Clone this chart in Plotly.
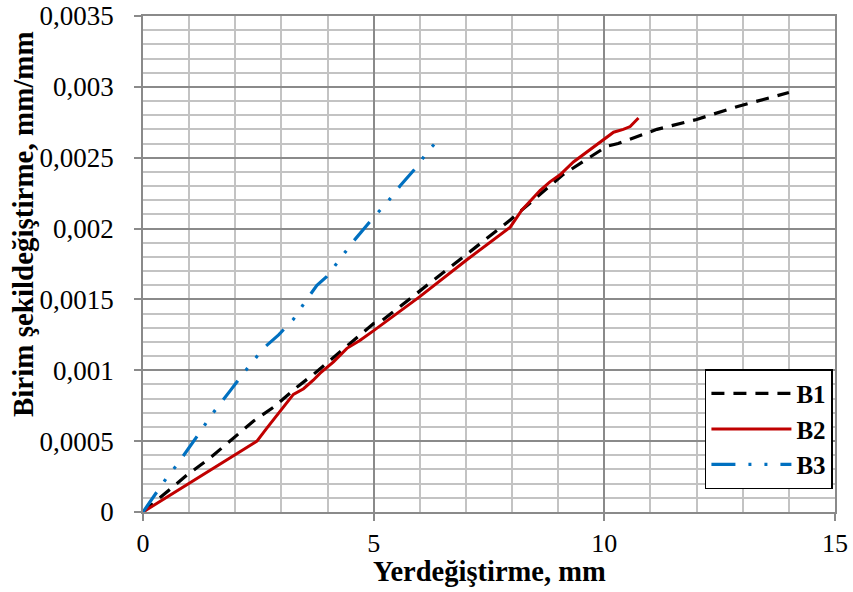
import plotly.graph_objects as go

# ---- data ----
b1_x = [0, 0.43, 0.95, 1.45, 1.89, 2.39, 2.83, 3.37, 3.69, 4.63, 5.0, 5.14, 6.0, 6.84,
        7.96, 9.1, 9.76, 10.05, 10.3, 11.14, 12.0, 12.87, 14.0]
b1_y = [0, 0.00012, 0.00026, 0.00038, 0.0005, 0.00064, 0.00074, 0.00089, 0.00097, 0.00123,
        0.00133, 0.00134, 0.00156, 0.00177, 0.00206, 0.00238, 0.00252, 0.00258, 0.0026,
        0.0027, 0.00277, 0.00286, 0.00296]

b2_x = [0, 2.47, 2.68, 2.9, 3.26, 3.48, 3.69, 3.84, 4.13, 4.42, 4.70, 5.0, 6.0, 7.02,
        7.96, 8.21, 8.61, 8.82, 9.04, 9.33, 9.69, 9.98, 10.2, 10.41, 10.56, 10.74]
b2_y = [0, 0.0005, 0.00059, 0.00068, 0.00083, 0.00087, 0.00093, 0.00098, 0.00106, 0.001155,
        0.00121, 0.00128, 0.00152, 0.00178, 0.00201, 0.00213, 0.00227, 0.00233, 0.00238,
        0.00247, 0.002555, 0.00263, 0.00268, 0.0027, 0.00272, 0.00278]

b3_x = [0, 0.33, 0.51, 0.73, 0.95, 1.27, 1.45, 1.67, 1.9, 2.18, 2.61, 2.94, 3.26, 3.55,
        3.77, 3.98, 4.24, 4.56, 5.0, 5.28, 5.57, 5.79, 6.0, 6.15, 6.33, 6.38]
b3_y = [0, 0.00015, 0.00024, 0.00033, 0.00043, 0.00058, 0.00067, 0.00076, 0.00086, 0.00098,
        0.001155, 0.00125, 0.00136, 0.0015, 0.0016, 0.00166, 0.00177, 0.00191, 0.00208,
        0.00218, 0.0023, 0.00238, 0.00246, 0.00254, 0.0026, 0.0026]

series_names = ["B1", "B2", "B3"]

x_tickvals = [0, 5, 10, 15]
x_ticktext = ["0", "5", "10", "15"]
y_tickvals = [0, 0.0005, 0.001, 0.0015, 0.002, 0.0025, 0.003, 0.0035]
y_ticktext = ["0", "0,0005", "0,001", "0,0015", "0,002", "0,0025", "0,003", "0,0035"]

x_title = "Yerdeğiştirme, mm"
y_title = "Birim şekildeğiştirme, mm/mm"

FONT = "Liberation Serif, Times New Roman, serif"
MAJOR = "#8a8a8a"
MINOR = "#c3c3c3"

fig = go.Figure()
fig.add_trace(go.Scatter(x=b1_x, y=b1_y, name=series_names[0], mode="lines",
                         line=dict(color="black", width=3.2, dash="13px,9px")))
fig.add_trace(go.Scatter(x=b2_x, y=b2_y, name=series_names[1], mode="lines",
                         line=dict(color="#C00000", width=3)))
fig.add_trace(go.Scatter(x=b3_x, y=b3_y, name=series_names[2], mode="lines",
                         line=dict(color="#0070C0", width=3.2,
                                   dash="24px,13px,3px,13px,3px,13px")))

fig.update_layout(
    width=853, height=592,
    margin=dict(l=143, r=18, t=16, b=80),
    paper_bgcolor="white", plot_bgcolor="white",
    font=dict(family=FONT, size=27, color="black"),
    showlegend=True,
    legend=dict(x=0.997, y=0.046, xanchor="right", yanchor="bottom",
                bgcolor="white", bordercolor="black", borderwidth=1.5,
                font=dict(family=FONT, size=25, color="black", weight="bold"),
                itemwidth=80, tracegroupgap=0),
    xaxis=dict(range=[0, 15], tickvals=x_tickvals, ticktext=x_ticktext,
               automargin=False, ticklabeloverflow="allow",
               tickfont=dict(family=FONT, size=26, color="black"),
               showgrid=True, gridcolor=MAJOR, gridwidth=1.5,
               minor=dict(dtick=1, showgrid=True, gridcolor=MINOR, gridwidth=1.5,
                          ticks=""),
               showline=True, linecolor=MAJOR, linewidth=1.5, mirror=True,
               ticks="outside", ticklen=7, tickcolor=MAJOR, tickwidth=1.5,
               zeroline=False, ticklabelstandoff=0),
    yaxis=dict(range=[0, 0.0035], tickvals=y_tickvals, ticktext=y_ticktext,
               automargin=False, ticklabeloverflow="allow",
               showgrid=True, gridcolor=MAJOR, gridwidth=1.5,
               minor=dict(dtick=0.0001, showgrid=True, gridcolor=MINOR, gridwidth=1.5,
                          ticks=""),
               showline=True, linecolor=MAJOR, linewidth=1.5, mirror=True,
               ticks="outside", ticklen=7, tickcolor=MAJOR, tickwidth=1.5,
               zeroline=False, ticklabelstandoff=15),
    annotations=[
        dict(text="<b>" + y_title + "</b>", textangle=-90,
             xref="paper", yref="paper", x=-0.173, y=0.581,
             xanchor="center", yanchor="middle", showarrow=False,
             font=dict(family=FONT, size=29, color="black")),
        dict(text="<b>" + x_title + "</b>",
             xref="paper", yref="paper", x=0.5, y=-0.119,
             xanchor="center", yanchor="middle", showarrow=False,
             font=dict(family=FONT, size=28.5, color="black")),
    ],
)

# remove the page's default 8px body margin so the figure fills the window exactly
fig.write_html("out.html",
               config={"displayModeBar": False},
               post_script="document.body.style.margin='0px';")
